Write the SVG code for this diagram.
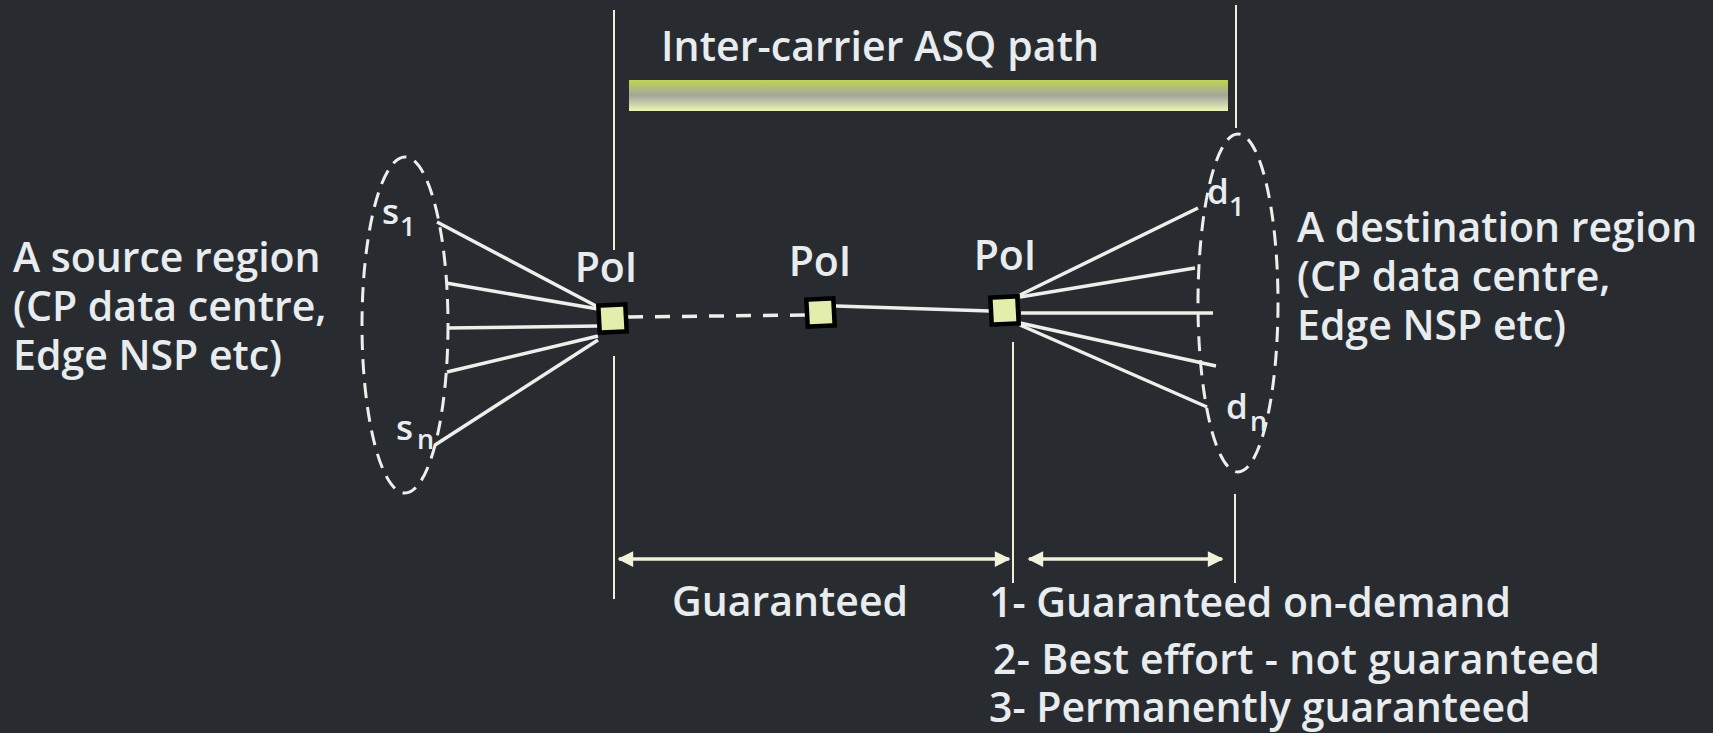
<svg xmlns="http://www.w3.org/2000/svg" width="1713" height="733" viewBox="0 0 1713 733">
  <style>
    .t { font-family: "Open Sans", "Noto Sans", "DejaVu Sans", sans-serif; font-weight: 600; fill: #e9ecef; }
    .big { font-size: 41px; }
    .sym { font-size: 35px; }
    .sub { font-size: 27px; }
    .guide { stroke: #efeed6; stroke-width: 2; fill: none; }
    .fan { stroke: #eeeeea; stroke-width: 3.5; fill: none; stroke-linecap: butt; }
    .region { fill: none; stroke: #eeeeea; stroke-width: 3; stroke-dasharray: 15 9; }
    .poi { fill: #e3eeac; stroke: #000; stroke-width: 4.5; }
    .span { stroke: #f2f2dc; stroke-width: 3.5; fill: none; }
  </style>
  <defs>
    <linearGradient id="barFill" x1="0" y1="0" x2="0" y2="1">
      <stop offset="0" stop-color="#bfd454"/>
      <stop offset="0.5" stop-color="#a3a69b"/>
      <stop offset="1" stop-color="#edf4b6"/>
    </linearGradient>
    <marker id="head" viewBox="0 0 10 10" refX="9" refY="5" markerWidth="6" markerHeight="4.5" markerUnits="strokeWidth" orient="auto-start-reverse">
      <path d="M0,0 L10,5 L0,10 z" fill="#f2f2dc"/>
    </marker>
  </defs>

  <rect width="1713" height="733" fill="#282c31"/>

  <!-- guide lines -->
  <g id="guides">
    <line class="guide" x1="614" y1="10" x2="614" y2="250"/>
    <line class="guide" x1="614" y1="356" x2="614" y2="599"/>
    <line class="guide" x1="1236" y1="5" x2="1236" y2="128"/>
    <line class="guide" x1="1013" y1="342" x2="1013" y2="583"/>
    <line class="guide" x1="1235" y1="494" x2="1235" y2="583"/>
  </g>

  <!-- inter-carrier path bar -->
  <g id="asq-path">
    <rect x="629" y="80" width="599" height="31" fill="url(#barFill)"/>
    <text class="t big" x="661" y="61" textLength="438">Inter-carrier ASQ path</text>
  </g>

  <!-- connectors -->
  <g id="connectors">
    <line class="fan" x1="437" y1="222" x2="598" y2="307"/>
    <line class="fan" x1="446" y1="283" x2="598" y2="309"/>
    <line class="fan" x1="448" y1="328" x2="598" y2="326"/>
    <line class="fan" x1="447" y1="372" x2="598" y2="336"/>
    <line class="fan" x1="435" y1="445" x2="598" y2="340"/>

    <line class="fan" x1="1020" y1="295" x2="1198" y2="208"/>
    <line class="fan" x1="1020" y1="297" x2="1195" y2="268"/>
    <line class="fan" x1="1021" y1="313" x2="1213" y2="313"/>
    <line class="fan" x1="1020" y1="323" x2="1216" y2="366"/>
    <line class="fan" x1="1020" y1="325" x2="1207" y2="407"/>

    <line class="fan" x1="628" y1="317" x2="806" y2="315" stroke-dasharray="15 12"/>
    <line class="fan" x1="836" y1="306" x2="990" y2="311"/>

    <line class="span" x1="619" y1="559" x2="1009" y2="559" marker-start="url(#head)" marker-end="url(#head)"/>
    <line class="span" x1="1029" y1="559" x2="1222" y2="559" marker-start="url(#head)" marker-end="url(#head)"/>
  </g>

  <!-- source region -->
  <g id="source">
    <ellipse class="region" cx="405" cy="325" rx="43" ry="168"/>
    <text class="t sym" x="382" y="224">s</text>
    <text class="t sub" x="400" y="236">1</text>
    <text class="t sym" x="396" y="440">s</text>
    <text class="t sub" x="417" y="449">n</text>
    <text class="t big" x="13" y="272">A source region<tspan x="13" dy="49">(CP data centre,</tspan><tspan x="13" dy="49">Edge NSP etc)</tspan></text>
  </g>

  <!-- destination region -->
  <g id="destination">
    <ellipse class="region" cx="1238" cy="303" rx="40" ry="169"/>
    <text class="t sym" x="1207" y="204">d</text>
    <text class="t sub" x="1229" y="216">1</text>
    <text class="t sym" x="1226" y="419">d</text>
    <text class="t sub" x="1250" y="431">n</text>
    <text class="t big" x="1297" y="242">A destination region<tspan x="1297" dy="49">(CP data centre,</tspan><tspan x="1297" dy="49">Edge NSP etc)</tspan></text>
  </g>

  <!-- points of interconnection -->
  <g id="poi-1">
    <rect class="poi" x="599" y="305" width="27" height="27" transform="rotate(-3 612.5 318.5)"/>
    <text class="t big" x="606" y="282" text-anchor="middle">PoI</text>
  </g>
  <g id="poi-2">
    <rect class="poi" x="807" y="299" width="27" height="27" transform="rotate(-3 820.5 312.5)"/>
    <text class="t big" x="820" y="276" text-anchor="middle">PoI</text>
  </g>
  <g id="poi-3">
    <rect class="poi" x="991" y="297" width="27" height="27" transform="rotate(-3 1004.5 310.5)"/>
    <text class="t big" x="1005" y="270" text-anchor="middle">PoI</text>
  </g>

  <!-- service labels -->
  <g id="labels">
    <text class="t big" x="672" y="616">Guaranteed</text>
    <text class="t big" x="989" y="617">1- Guaranteed on-demand<tspan x="993" dy="57" textLength="607">2- Best effort - not guaranteed</tspan><tspan x="989" dy="48">3- Permanently guaranteed</tspan></text>
  </g>
</svg>
